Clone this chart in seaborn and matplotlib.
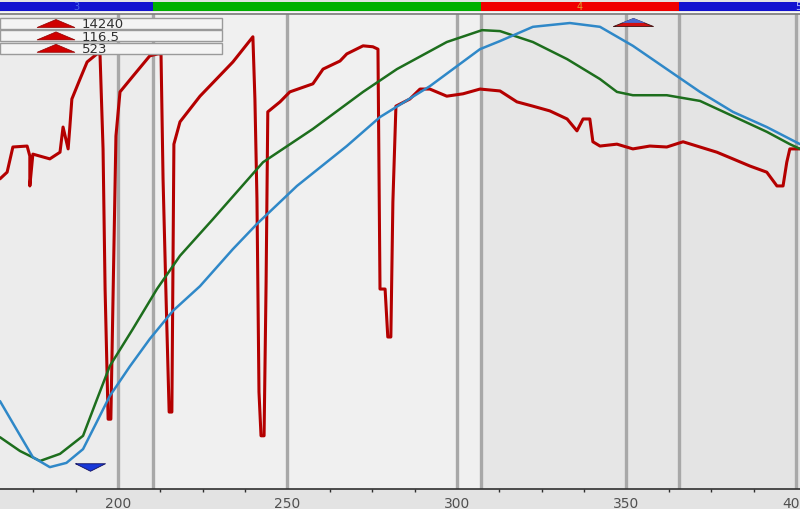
import matplotlib
matplotlib.use("Agg")
import matplotlib.pyplot as plt
import seaborn as sns
import pandas as pd
from matplotlib.patches import Rectangle, Polygon
from matplotlib.ticker import MultipleLocator

# ---------------- data (x = distance, y = % of trace height) ----------------
blue_x = [165.2, 170.2, 174.9, 179.9, 184.8, 189.7, 193.6, 197.6, 203.5, 209.4, 216.2, 224.2,
          233.9, 241.0, 252.8, 267.5, 277.3, 292.0, 306.8, 312.7, 322.4, 333.3,
          342.2, 351.9, 361.9, 371.7, 381.4, 391.4, 401.2]
blue_y = [18.5, 12.4, 6.7, 4.6, 5.5, 8.4, 13.9, 19.6, 25.8, 31.6, 37.5, 42.7,
          50.5, 55.8, 63.8, 72.2, 78.3, 84.8, 92.6, 94.3, 97.3, 98.1,
          97.3, 93.3, 88.4, 83.6, 79.4, 76.2, 72.6]

green_x = [165.2, 171.1, 177.0, 182.9, 189.7, 193.6, 197.6, 204.4, 211.5, 218.3, 228.0,
           242.8, 257.5, 272.3, 282.3, 297.0, 307.4, 312.7, 322.4, 332.5, 342.2,
           347.2, 351.9, 361.9, 371.7, 381.4, 391.4, 398.2, 401.2]
green_y = [10.9, 8.0, 5.9, 7.4, 11.2, 18.5, 25.9, 33.7, 42.1, 49.1, 56.8,
           68.8, 75.8, 83.6, 88.4, 94.1, 96.6, 96.4, 94.1, 90.5, 86.3,
           83.6, 82.9, 82.9, 81.7, 78.5, 75.2, 72.6, 71.6]

red_x = [165.2, 167.3, 169.0, 173.2, 174.0, 174.0, 174.9, 179.9, 182.9, 183.8,
         185.3, 185.8, 186.4, 188.8, 190.9, 193.8, 194.7, 195.6, 196.2, 197.1,
         197.9, 198.8, 199.4, 200.6, 204.4, 209.4, 211.8, 212.7, 213.3, 214.2,
         215.1, 215.9, 216.5, 218.3, 224.2, 233.9, 239.8, 240.4, 241.0, 241.6,
         242.2, 243.1, 243.7, 244.2, 247.8, 250.7, 257.5, 260.5, 265.5, 267.5,
         272.3, 275.2, 276.7, 277.3, 278.8, 279.6, 280.5, 281.1, 282.0, 286.1,
         289.1, 292.0, 297.0, 301.8, 306.8, 312.7, 317.7, 322.4, 327.4, 332.5,
         335.4, 337.2, 339.2, 340.1, 342.2, 347.2, 351.9, 356.9, 361.9, 366.7,
         371.7, 376.7, 381.4, 386.4, 391.4, 394.4, 396.2, 397.3, 398.2, 401.2]
red_y = [65.3, 66.7, 72.0, 72.2, 70.1, 63.8, 70.5, 69.5, 70.9, 76.2,
         71.6, 76.2, 82.1, 86.3, 89.9, 91.6, 91.6, 71.6, 42.1, 14.7,
         14.7, 50.5, 74.3, 83.6, 86.9, 91.2, 91.6, 91.6, 65.3, 40.0,
         16.2, 16.2, 72.6, 77.3, 82.7, 89.9, 95.2, 82.1, 61.1, 20.4,
         11.2, 11.2, 43.6, 79.4, 81.5, 83.6, 85.3, 88.4, 90.1, 91.6,
         93.3, 93.1, 92.6, 42.1, 42.1, 32.0, 32.0, 60.4, 80.6, 82.1,
         84.2, 84.2, 82.7, 83.2, 84.2, 83.8, 81.5, 80.6, 79.6, 77.9,
         75.4, 77.9, 77.9, 73.1, 72.2, 72.6, 71.6, 72.2, 72.0, 73.1,
         72.0, 70.9, 69.5, 68.0, 66.7, 63.8, 63.8, 68.8, 71.6, 71.6]

lap_bounds = [210.3, 307.1, 365.5]
lap_labels = ["3", "", "4", "5"]
xticks = [200, 250, 300, 350, 400]
readouts = ["14240", "116.5", "523"]
marker_x = [191.7, 351.9]
marker_y = [4.6, 98.3]

# ---------------- style ----------------
sns.set_theme(style="white")
plt.rcParams["font.family"] = ["DejaVu Sans"]

W, H = 800, 510
fig = plt.figure(figsize=(W / 100, H / 100), dpi=100, facecolor="#e3e3e3")

def fx(px):
    return px / W

def fy(py):
    return 1 - py / H

xmin, xmax = 165.2, 401.2
edges = [xmin] + lap_bounds + [xmax]

ax = fig.add_axes([0, fy(490), 1, 475 / H])
ax.set_xlim(xmin, xmax)
ax.set_ylim(0, 100)

band_cols = ["#ececec", "#f0f0f0", "#e6e6e6", "#e4e4e4"]
for i in range(4):
    ax.axvspan(edges[i], edges[i + 1], color=band_cols[i], zorder=0, lw=0)
for v in xticks + lap_bounds:
    ax.axvline(v, color="#a8a8a8", lw=2.4, zorder=1)

df_r = pd.DataFrame({"x": red_x, "y": red_y})
df_g = pd.DataFrame({"x": green_x, "y": green_y})
df_b = pd.DataFrame({"x": blue_x, "y": blue_y})
sns.lineplot(data=df_r, x="x", y="y", sort=False, estimator=None, color="#b40000",
             lw=2.2, ax=ax, zorder=3)
sns.lineplot(data=df_g, x="x", y="y", sort=False, estimator=None, color="#1d6e1d",
             lw=1.8, ax=ax, zorder=4)
sns.lineplot(data=df_b, x="x", y="y", sort=False, estimator=None, color="#2f88c8",
             lw=1.8, ax=ax, zorder=5)

down_tri = [(-1, 0.25), (1, 0.25), (0, -0.25), (-1, 0.25)]
up_tri = [(-1, -0.2), (1, -0.2), (0, 0.2), (-1, -0.2)]
ax.scatter([marker_x[0]], [marker_y[0]], marker=down_tri, s=(30 * 0.72) ** 2,
           color="#1838d8", edgecolor="#101060", lw=0.6, zorder=6)
ax.scatter([marker_x[1]], [marker_y[1]], marker=up_tri, s=(40 * 0.72) ** 2,
           color="#d01010", edgecolor="#401010", lw=0.6, zorder=6)
ax.scatter([marker_x[1]], [marker_y[1] + 0.35], marker=up_tri, s=(24 * 0.72) ** 2,
           color="#4a6ad0", lw=0, zorder=7)

ax.set_xlabel("")
ax.set_ylabel("")
ax.set_yticks([])
ax.set_xticks(xticks)
ax.xaxis.set_minor_locator(MultipleLocator(12.5))
for s in ["left", "right", "top"]:
    ax.spines[s].set_visible(False)
ax.spines["bottom"].set_color("#303030")
ax.spines["bottom"].set_linewidth(1.2)
ax.tick_params(axis="x", which="major", length=4, width=1.2, color="#303030",
               labelsize=10, labelcolor="#505050", pad=1, direction="out")
ax.tick_params(axis="x", which="minor", length=2.5, width=1.0, color="#303030",
               direction="out", bottom=True)

# ---------------- lap color bar ----------------
bar = fig.add_axes([0, fy(12), 1, 9 / H])
bar.set_xlim(xmin, xmax)
bar.set_ylim(0, 1)
bar_cols = ["#1212d0", "#00b000", "#f00000", "#1212d0"]
for i in range(4):
    bar.axvspan(edges[i], edges[i + 1], color=bar_cols[i], lw=0)
lab_cols = ["#4a66e8", "#000000", "#e0a030", "#b8c0ff"]
for i, lab in enumerate(lap_labels):
    if not lab:
        continue
    cx = (edges[i] + edges[i + 1]) / 2 if i < 3 else xmax - 0.6
    bar.text(cx, 0.5, lab, ha="center", va="center", fontsize=7, color=lab_cols[i])
bar.axis("off")
fig.add_artist(plt.Line2D([0, 1], [fy(13), fy(13)], color="#f8f8f8", lw=1,
                          transform=fig.transFigure))
fig.add_artist(plt.Line2D([0, 1], [fy(14.5), fy(14.5)], color="#7a7a7a", lw=1.2,
                          transform=fig.transFigure))

# ---------------- readout boxes ----------------
for i, val in enumerate(readouts):
    top = 19 + i * 12.4
    fig.add_artist(Rectangle((fx(0), fy(top + 11)), fx(222), 11 / H,
                             transform=fig.transFigure, fc="#f4f4f4", ec="#9a9a9a",
                             lw=1, zorder=10))
    tri = Polygon([(fx(37), fy(top + 9.5)), (fx(75), fy(top + 9.5)),
                   (fx(56), fy(top + 1.5))], closed=True,
                  transform=fig.transFigure, fc="#d00000", ec="#900000", lw=0.5,
                  zorder=11)
    fig.add_artist(tri)
    fig.text(fx(82), fy(top + 5.8), val, ha="left", va="center", fontsize=9.5,
             color="#303030", zorder=12)

fig.savefig("out.png", dpi=100, facecolor=fig.get_facecolor())
